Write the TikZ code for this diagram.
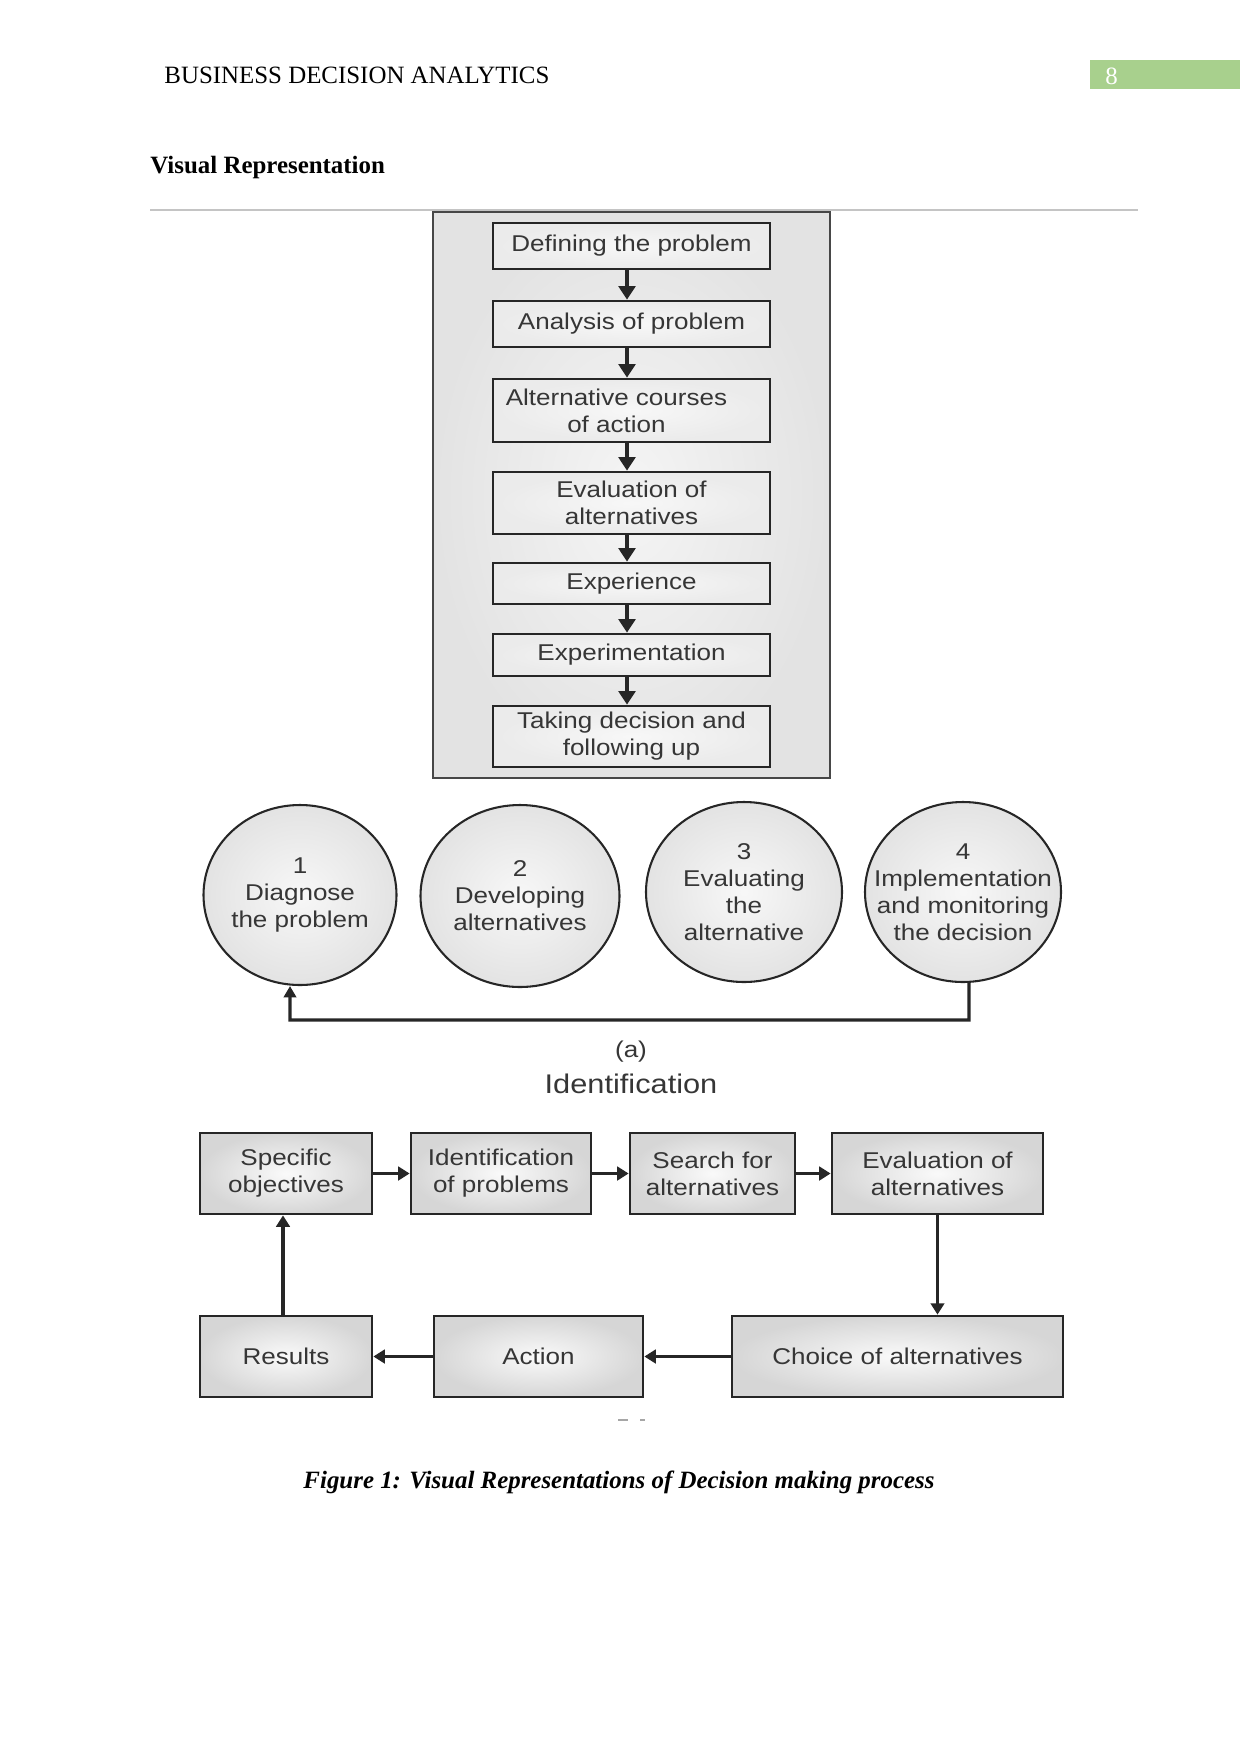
\documentclass[tikz,border=0pt]{standalone}
\usepackage{fontspec}
\setmainfont{Liberation Serif}
\newfontfamily\dfont[FakeStretch=1.14]{Liberation Sans}
\usetikzlibrary{arrows.meta,shapes.geometric}
\def\PX{0.4818pt}
\definecolor{hdrgreen}{HTML}{A8D08D}
\definecolor{txtgray}{HTML}{363636}
\definecolor{edgecol}{HTML}{262626}
\definecolor{rulegray}{HTML}{C4C4C4}
\tikzset{
  dtext/.style={font=\dfont\fontsize{11}{13}\selectfont, text=txtgray, align=center, inner sep=0pt},
  tbox/.style={dtext, draw=edgecol, line width=1.3pt, minimum width=277*\PX, inner color=white!97!black, outer color=black!8},
  outerbox/.style={draw=edgecol!85, line width=1.1pt, inner color=white!96!black, outer color=black!11},
  circ/.style={ellipse, draw=edgecol, line width=1pt, inner sep=0pt, inner color=white!97!black, outer color=black!11},
  bbox/.style={dtext, draw=edgecol, line width=1.3pt, minimum height=81*\PX, inner color=white!98!black, outer color=black!16},
  tarr/.style={draw=edgecol, line width=1.6pt, -{Triangle[length=6.5pt,width=8pt]}},
  barr/.style={draw=edgecol, line width=1.5pt, -{Triangle[length=5.5pt,width=6.5pt]}},
}
\begin{document}
\begin{tikzpicture}[x=0.16933mm, y=-0.16933mm]
\useasboundingbox (0,0) rectangle (1241,1754);
% header
\node[anchor=base west, inner sep=0pt, font=\fontsize{12}{14}\selectfont] (hdr) at (164,83) {BUSINESS DECISION ANALYTICS};
\fill[hdrgreen] (1090,60) rectangle (1240,89);
\node[anchor=base west, inner sep=0pt, text=white, font=\fontsize{12}{14}\selectfont] (pg) at (1105,84) {8};
\node[anchor=base west, inner sep=0pt, font=\bfseries\fontsize{12}{14}\selectfont] (sect) at (150,173) {Visual Representation};
\draw[rulegray, line width=1pt] (150,210) -- (1138,210);

% top flow chart
\node[outerbox, minimum width=397*\PX, minimum height=566*\PX] (frame) at (631.5,495) {};
\node[tbox, minimum height=46*\PX] (t1) at (631.5,246) {Defining the problem};
\node[tbox, minimum height=46*\PX] (t2) at (631.5,324) {Analysis of problem};
\node[tbox, minimum height=63*\PX] (t3) at (631.5,410.5) {Alternative courses\hspace*{14.5pt}\\of action\hspace*{14.5pt}};
\node[tbox, minimum height=62*\PX] (t4) at (631.5,503) {Evaluation of\\alternatives};
\node[tbox, minimum height=41*\PX] (t5) at (631.5,583.5) {Experience};
\node[tbox, minimum height=42*\PX] (t6) at (631.5,655) {Experimentation};
\node[tbox, minimum height=61*\PX] (t7) at (631.5,736.5) {Taking decision and\\following up};
\coordinate (ax) at (627,0);
\draw[tarr] (t1.south -| ax) -- (t2.north -| ax);
\draw[tarr] (t2.south -| ax) -- (t3.north -| ax);
\draw[tarr] (t3.south -| ax) -- (t4.north -| ax);
\draw[tarr] (t4.south -| ax) -- (t5.north -| ax);
\draw[tarr] (t5.south -| ax) -- (t6.north -| ax);
\draw[tarr] (t6.south -| ax) -- (t7.north -| ax);

% circles
\node[circ, minimum width=193*\PX, minimum height=180*\PX] (c1) at (300,895) {};
\node[circ, minimum width=199*\PX, minimum height=182*\PX] (c2) at (520,896) {};
\node[circ, minimum width=196*\PX, minimum height=180*\PX] (c3) at (744,892) {};
\node[circ, minimum width=196*\PX, minimum height=180*\PX] (c4) at (963,892) {};
\node[dtext] (c1t) at (c1) {1\\Diagnose\\the problem};
\node[dtext] (c2t) at (c2) {2\\Developing\\alternatives};
\node[dtext] (c3t) at (c3) {3\\Evaluating\\the\\alternative};
\node[dtext] (c4t) at (c4) {4\\Implementation\\and monitoring\\the decision};
\coordinate (loopL) at (290,1020);
\draw[draw=edgecol, line width=1.5pt, -{Triangle[length=5.5pt,width=6pt]}]
  ([xshift=6*\PX]c4.south) |- (loopL) -- ([xshift=-10*\PX]c1.south);

\node[dtext] (lbla) at (631,1052) {(a)};
\node[dtext, font=\dfont\fontsize{13}{15}\selectfont] (ident) at (631,1084) {Identification};

% bottom cycle
\node[bbox, minimum width=172*\PX] (b1) at (286,1173.5) {Specific\\objectives};
\node[bbox, minimum width=180*\PX] (b2) at (501,1173.5) {Identification\\of problems};
\node[bbox, minimum width=165*\PX] (b3) at (712.5,1173.5) {Search for\\alternatives};
\node[bbox, minimum width=211*\PX] (b4) at (937.5,1173.5) {Evaluation of\\alternatives};
\node[bbox, minimum width=172*\PX] (r1) at (286,1356.5) {Results};
\node[bbox, minimum width=209*\PX] (r2) at (538.5,1356.5) {Action};
\node[bbox, minimum width=331*\PX] (r3) at (897.5,1356.5) {Choice of alternatives};
\draw[barr] (b1) -- (b2);
\draw[barr] (b2) -- (b3);
\draw[barr] (b3) -- (b4);
\draw[barr] (b4.south) -- (b4.south |- r3.north);
\draw[barr] (r3) -- (r2);
\draw[barr] (r2) -- (r1);
\draw[barr] ([xshift=-3*\PX]r1.north) -- ([xshift=-3*\PX]b1.south);
\draw[black!35, line width=0.6pt] (618,1420) -- (628,1420) (640,1420) -- (645,1420);

% caption
\node[anchor=base, inner sep=0pt, font=\bfseries\itshape\fontsize{12}{14}\selectfont] (cap) at (619,1488) {Figure 1: Visual Representations of Decision making process};
\end{tikzpicture}
\end{document}
